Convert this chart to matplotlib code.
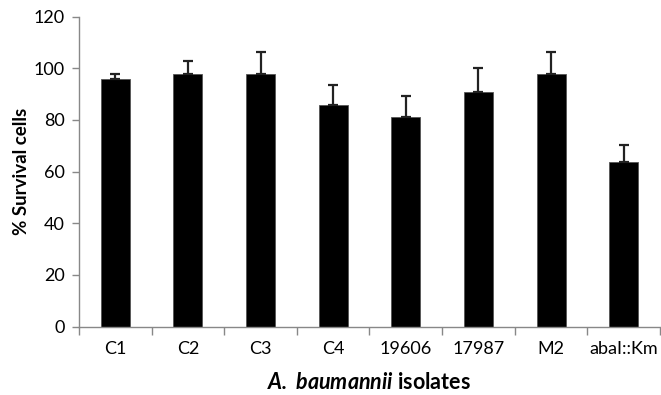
import numpy as np
import matplotlib.pyplot as plt

# data
isolates = ['C1', 'C2', 'C3', 'C4', '19606', '17987', 'M2', 'abaI::Km']
survival = [95.9, 97.7, 97.9, 85.9, 81.1, 90.9, 97.8, 63.9]
sd = [1.7, 5.2, 8.4, 7.7, 8.3, 9.3, 8.5, 6.3]

plt.rcParams['font.family'] = ['Lato', 'DejaVu Sans']
plt.rcParams['mathtext.fontset'] = 'custom'
plt.rcParams['mathtext.bfit'] = 'Lato:italic:bold'
plt.rcParams['mathtext.it'] = 'Lato:italic'
plt.rcParams['mathtext.bf'] = 'Lato:bold'
plt.rcParams['mathtext.rm'] = 'Lato'

fig = plt.figure(figsize=(6.61, 3.95), dpi=100)
ax = fig.add_axes([0.1195, 0.173, 0.879, 0.785])

x = np.arange(len(isolates))
ax.bar(x, survival, width=0.4, color='black', edgecolor='#555555', linewidth=0.6)
ax.errorbar(x, survival, yerr=[np.zeros(len(sd)), sd], fmt='none',
            ecolor='#222222', elinewidth=1.6, capsize=3.5, capthick=1.6)

ax.set_xlim(-0.5, len(isolates) - 0.5)
ax.set_ylim(0, 120)
ax.set_yticks(range(0, 121, 20))
ax.set_xticks(x)
ax.set_xticklabels(isolates)
ax.set_xticks(np.arange(-0.5, len(isolates)), minor=True)
ax.tick_params(axis='x', which='major', length=0, pad=10, labelsize=13)
ax.tick_params(axis='x', which='minor', length=6, color='#888888', width=1)
ax.tick_params(axis='y', length=5, color='#888888', width=1, labelsize=13, pad=5)

for s in ['top', 'right']:
    ax.spines[s].set_visible(False)
for s in ['left', 'bottom']:
    ax.spines[s].set_color('#888888')
    ax.spines[s].set_linewidth(1)

ax.set_ylabel('% Survival cells', fontsize=13.5, fontweight='bold', labelpad=3)
ax.set_xlabel(r'$\mathbfit{A.}$ $\mathbfit{baumannii}$ isolates', fontsize=15.5,
              fontweight='bold', labelpad=11)

fig.savefig('out.png', dpi=100)
